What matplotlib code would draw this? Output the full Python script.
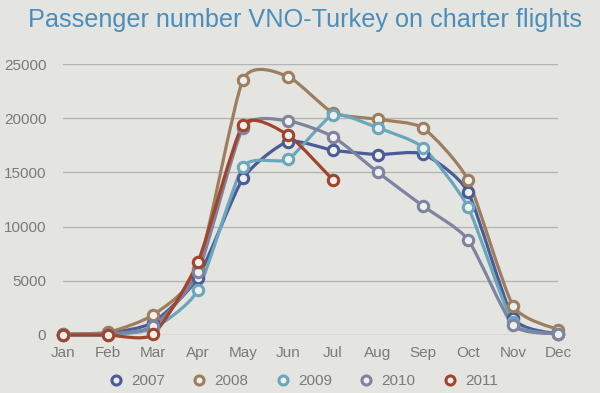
import numpy as np
import matplotlib
matplotlib.use("Agg")
import matplotlib.pyplot as plt
from matplotlib.path import Path
from matplotlib.patches import PathPatch
from matplotlib.lines import Line2D

months = ['Jan', 'Feb', 'Mar', 'Apr', 'May', 'Jun', 'Jul', 'Aug', 'Sep', 'Oct', 'Nov', 'Dec']
y2007 = [0, 150, 1150, 5300, 14450, 17850, 17050, 16650, 16700, 13200, 1600, 100]
y2008 = [100, 250, 1850, 6100, 23550, 23850, 20500, 19900, 19100, 14300, 2700, 500]
y2009 = [0, 0, 600, 4150, 15500, 16200, 20300, 19100, 17300, 11800, 1200, 100]
y2010 = [100, 100, 800, 5800, 19100, 19750, 18300, 15000, 11900, 8800, 900, 100]
y2011 = [0, 0, 50, 6750, 19400, 18450, 14300]
years = ['2007', '2008', '2009', '2010', '2011']
colors = ['#4b5b98', '#9d7e5f', '#6aa6bc', '#7e839f', '#a2442b']
series = [y2007, y2008, y2009, y2010, y2011]

bg = '#e4e5e0'
plt.rcParams['font.family'] = ['Liberation Sans', 'DejaVu Sans']


def smooth_path(x, y, k=10.0):
    # catmull-rom style -> cubic bezier segments
    pts = np.column_stack([x, y]).astype(float)
    ext = np.vstack([pts[0], pts, pts[-1]])
    verts = [pts[0]]
    codes = [Path.MOVETO]
    for i in range(len(pts) - 1):
        p0, p1, p2, p3 = ext[i], ext[i + 1], ext[i + 2], ext[i + 3]
        c1 = p1 + (p2 - p0) / k
        c2 = p2 - (p3 - p1) / k
        verts += [c1, c2, p2]
        codes += [Path.CURVE4] * 3
    return Path(verts, codes)


fig = plt.figure(figsize=(6, 3.93), dpi=100, facecolor=bg)
ax = fig.add_axes([0.105, 0.1476, 0.825, 0.6894])
ax.set_facecolor(bg)

for vals, c in zip(series, colors):
    xs = np.arange(len(vals))
    ax.add_patch(PathPatch(smooth_path(xs, vals), facecolor='none', edgecolor=c,
                           lw=2.3, clip_on=False, zorder=3, capstyle='round'))
for vals, c in zip(series, colors):
    xs = np.arange(len(vals))
    ax.plot(xs, vals, ls='none', marker='o', ms=7.5, mfc='#eef0ee', mec=c, mew=2.2,
            clip_on=False, zorder=4)

ax.set_xlim(0, 11)
ax.set_ylim(0, 25000)
ax.set_xticks(range(12))
ax.set_xticklabels(months)
ax.set_yticks(range(0, 25001, 5000))
ax.yaxis.grid(True, color='#b5b6b4', lw=1)
ax.set_axisbelow(True)
for s in ax.spines.values():
    s.set_visible(False)
ax.tick_params(length=0, colors='#7a7a7a', labelsize=11)
ax.tick_params(axis='x', pad=8)
ax.tick_params(axis='y', pad=12)

handles = [Line2D([], [], ls='none', marker='o', ms=6.5, mfc='#eef0ee', mec=c, mew=2.2)
           for c in colors]
leg = fig.legend(handles, years, loc='center', bbox_to_anchor=(0.505, 0.03), ncol=5,
                 frameon=False, fontsize=11, handletextpad=0.5, columnspacing=1.75,
                 handlelength=1.0)
for t in leg.get_texts():
    t.set_color('#7a7a7a')

fig.text(0.047, 0.948, 'Passenger number VNO-Turkey on charter flights', fontsize=18.2,
         color='#4b8dbb', va='center', ha='left')

fig.savefig('out.png', dpi=100, facecolor=bg)
